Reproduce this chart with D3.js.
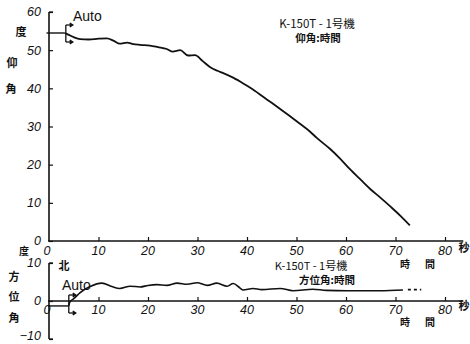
<!DOCTYPE html>
<html><head><meta charset="utf-8">
<script src="https://cdn.jsdelivr.net/npm/d3@7"></script>
<style>
html,body{margin:0;padding:0;background:#fff;}
svg{display:block;}
.tick-lab{font-family:"Liberation Sans Narrow","Liberation Sans",sans-serif;font-style:italic;font-size:12.5px;fill:#111;}
.cjk{font-family:"Noto Sans CJK JP",sans-serif;fill:#111;}
</style></head>
<body>
<svg id="c" width="470" height="344"></svg>
<script>
// ---- data ----
const xTicks = [0,10,20,30,40,50,60,70,80];
const elevTicks = [0,10,20,30,40,50,60];
const azTicks = [-10,0,10];
const elevPre = [[-0.5,54.5],[3.2,54.5]];
const elevTime = [3.2,4,5,6.3,8,10,11.7,13,14.3,15.8,17,18.4,20.4,22,23.8,25,26.5,28.1,29.5,31,32.5,34,35.2,37.2,39.6,41.2,44,46.7,48.7,50.7,52.7,54.1,56.8,58.8,60.8,63,65,67,69,71,72.9];
const elevVal  = [54.5,54.0,53.4,52.9,52.8,53.0,53.1,52.5,51.7,52.0,51.6,51.4,51.2,50.8,50.3,49.6,50.0,48.6,48.7,47.2,45.6,44.6,44.0,42.8,41.0,39.7,37.1,34.6,32.7,30.7,28.7,27.0,24.1,21.6,18.8,16.0,13.5,11.3,9.0,6.6,4.1];
const azPre = [[-0.2,-1.3],[4.0,-1.3]];
const azTime = [4.2,5,6.3,8.3,10.7,12.7,14.3,16.4,18.4,20,21.8,23.8,25.9,27.9,29.9,32,33.9,36,37.2,38.6,39.2,41.2,43,46.7,49.3,53.3,56,60.2,66.9,71.5];
const azVal  = [-0.3,0.6,2.2,3.8,4.7,3.8,3.3,3.9,3.7,4.1,4.3,4.1,4.7,4.4,4.8,4.1,4.7,3.9,4.6,3.4,2.9,3.3,3.0,3.3,2.7,3.1,2.8,2.7,2.7,2.9];
const azDash = [[72.5,3.0],[75.2,3.0]];

const svg = d3.select("#c");
const x = d3.scaleLinear().domain([0,80]).range([49,445]);
const yT = d3.scaleLinear().domain([0,60]).range([241,12]);
const yB = d3.scaleLinear().domain([-10,10]).range([339,263]);
const xEnd = 83.7;

function axes(y, yMin, yMax, yTicks, labY) {
  const g = svg.append("g");
  g.append("line").attr("x1",x(0)-1).attr("x2",x(xEnd)).attr("y1",y(0)).attr("y2",y(0))
    .attr("stroke","#111").attr("stroke-width",1.6);
  const xa = d3.axisBottom(x).tickValues(xTicks.filter(d=>d>0)).tickSizeInner(-4).tickSizeOuter(0).tickFormat("");
  const gx = g.append("g").attr("transform",`translate(0,${y(0)})`).call(xa);
  gx.select(".domain").remove();
  gx.selectAll(".tick line").attr("stroke","#111").attr("stroke-width",1.2);
  g.selectAll(null).data(xTicks).enter().append("text").attr("class","tick-lab")
    .attr("x",d=>x(d)+(d===0?-2:0)).attr("y",labY).attr("text-anchor","middle").attr("dy","0.35em").text(d=>d);
  g.append("line").attr("x1",x(0)).attr("x2",x(0)).attr("y1",y(yMin)).attr("y2",y(yMax))
    .attr("stroke","#111").attr("stroke-width",1.6);
  const ya = d3.axisRight(y).tickValues(yTicks).tickSizeInner(4).tickSizeOuter(0).tickFormat("");
  const gy = g.append("g").attr("transform",`translate(${x(0)},0)`).call(ya);
  gy.select(".domain").remove();
  gy.selectAll(".tick line").attr("stroke","#111").attr("stroke-width",1.2);
  g.selectAll(null).data(yTicks).enter().append("text").attr("class","tick-lab")
    .attr("x",x(0)-8).attr("y",d=>y(d)+(d===-10?-3:0)).attr("text-anchor","end").attr("dy","0.35em").text(d=>d<0?"\u2212"+Math.abs(d):d);
  return g;
}

axes(yT, 0, 60, elevTicks, 251);
axes(yB, -10, 10, azTicks, 310);

const curve = d3.curveMonotoneX;
function drawLine(pts, y, sw, dash) {
  svg.append("path").datum(pts)
    .attr("d", d3.line().x(d=>x(d[0])).y(d=>y(d[1])).curve(curve))
    .attr("fill","none").attr("stroke","#111").attr("stroke-width",sw)
    .attr("stroke-dasharray",dash||null).attr("stroke-linejoin","round");
}
drawLine(elevPre, yT, 1.4);
drawLine(elevTime.map((t,i)=>[t,elevVal[i]]), yT, 1.8);
drawLine(azPre, yB, 1.4);
drawLine([[4.0,-1.3]].concat(azTime.map((t,i)=>[t,azVal[i]])), yB, 1.6);
drawLine(azDash, yB, 1.6, "3,3");

function bracket(t, y1, y2) {
  const bx = x(t);
  const g = svg.append("g").attr("stroke","#111").attr("stroke-width",1.3).attr("fill","none");
  g.append("line").attr("x1",bx).attr("x2",bx).attr("y1",y1).attr("y2",y2);
  [y1,y2].forEach(yy=>{
    g.append("line").attr("x1",bx).attr("x2",bx+6).attr("y1",yy).attr("y2",yy);
    g.append("path").attr("d",`M${bx+4},${yy-2} L${bx+7},${yy} L${bx+4},${yy+2}`).attr("fill","#111");
  });
}
bracket(3.4, 25, 42);
bracket(4.0, 295, 313);

const txt = (s,xx,yy,size,anchor,cls,weight)=>svg.append("text").attr("class",cls||"cjk")
  .attr("x",xx).attr("y",yy).attr("font-size",size).attr("text-anchor",anchor||"start")
  .attr("dy","0.35em").attr("font-weight",weight||"normal").text(s);
const auto = (xx,yy)=>svg.append("text").attr("x",xx).attr("y",yy).attr("dy","0.35em")
  .attr("font-family","Liberation Sans Narrow, Liberation Sans, sans-serif").attr("font-size",14).attr("fill","#111").text("Auto");
auto(73,16);
auto(62,285);

svg.append("line").attr("x1",x(0)).attr("x2",x(0)+4).attr("y1",yT(60)).attr("y2",yT(60)).attr("stroke","#111").attr("stroke-width",1.3);
svg.append("line").attr("x1",x(0)).attr("x2",x(0)+4).attr("y1",yB(10)).attr("y2",yB(10)).attr("stroke","#111").attr("stroke-width",1.3);
svg.append("line").attr("x1",x(0)).attr("x2",x(0)+4).attr("y1",yB(-10)).attr("y2",yB(-10)).attr("stroke","#111").attr("stroke-width",1.3);

txt("度",21,32,11,"middle","cjk","bold");
txt("仰",12,63,11,"middle","cjk","bold");
txt("角",11,89,11,"middle","cjk","bold");
txt("度",24,251,10,"middle","cjk","bold");
txt("方",14,277,11,"middle","cjk","bold");
txt("位",14,297,11,"middle","cjk","bold");
txt("角",14,318,11,"middle","cjk","bold");
txt("北",64,266,11,"middle","cjk","bold");

txt("K-150T - 1号機",317,24,11.5,"middle");
txt("仰角:時間",318,38,10.5,"middle","cjk","bold");
txt("K-150T - 1号機",311,266,11,"middle");
txt("方位角:時間",327,280,10.5,"middle","cjk","bold");

txt("時",405,264,10,"middle","cjk","bold");
txt("間",430,264,10,"middle","cjk","bold");
txt("時",405,322,10,"middle","cjk","bold");
txt("間",430,322,10,"middle","cjk","bold");
txt("秒",464,248,11,"middle","cjk","bold");
txt("秒",464,306,11,"middle","cjk","bold");
</script>
</body></html>
